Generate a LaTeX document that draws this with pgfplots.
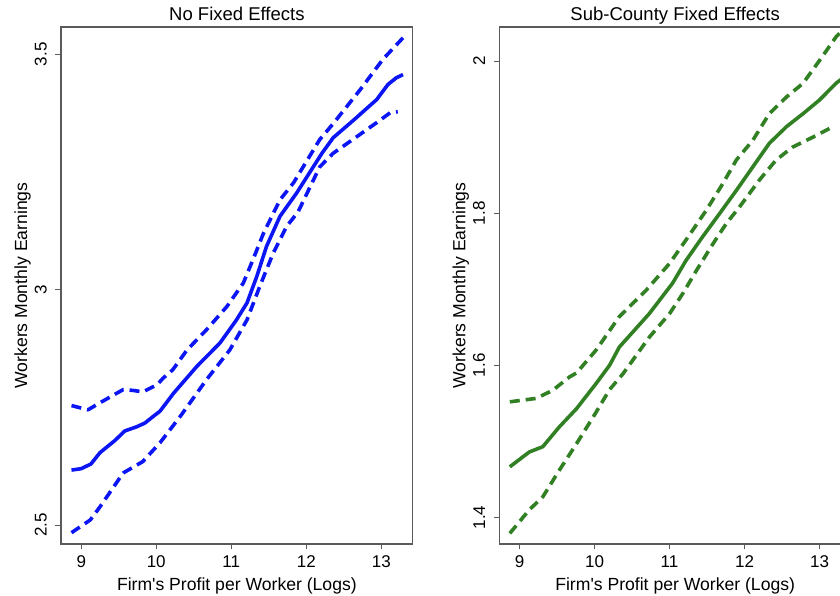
\documentclass[border=0pt]{standalone}
\usepackage{pgfplots}
\pgfplotsset{compat=1.18}
\usepackage{fontspec}
\setmainfont{Liberation Sans}
\definecolor{fgreen}{RGB}{50,128,36}
\definecolor{fblue}{RGB}{12,22,245}
\definecolor{axgray}{RGB}{90,90,90}

\pgfplotsset{
  panel/.style={
    scale only axis, width=351.75pt, height=517pt,
    anchor=south west,
    xmin=8.73, xmax=13.42,
    xtick={9,10,11,12,13},
    axis line style={axgray, line width=1.1pt},
    tick style={axgray, line width=1pt},
    tick align=outside, major tick length=5.5pt,
    xtick pos=bottom, ytick pos=left,
    /pgf/number format/assume math mode=true,
    /pgf/number format/fixed,
    ticklabel style={font=\fontsize{17}{17}\selectfont, inner sep=0pt},
    xticklabel style={anchor=north},
    yticklabel style={rotate=90, anchor=south},
    xticklabel shift=6pt,
    yticklabel shift=8.5pt,
    every axis title/.style={at={(0.5,1)}, anchor=base, yshift=6.5pt,
      font=\fontsize{18.5}{18.5}\selectfont},
    every axis x label/.style={at={(axis description cs:0.5,0)}, anchor=base,
      yshift=-47pt, font=\fontsize{17.6}{17.6}\selectfont},
    every axis y label/.style={at={([xshift=-38.5pt]axis description cs:0,0.5)}, rotate=90,
      anchor=center, font=\fontsize{17.6}{17.6}\selectfont},
    xlabel={Firm\textquotesingle s Profit per Worker (Logs)},
    ylabel={Workers Monthly Earnings},
    clip=false,
  },
  est/.style={line width=3.6pt, line join=round},
  ci/.style={line width=3.6pt, dash pattern=on 10pt off 6pt, line join=round},
}

\begin{document}
\begin{tikzpicture}
\path[use as bounding box] (0,0) rectangle (840pt,596pt);
\clip (0,0) rectangle (840pt,596pt);

\begin{axis}[panel, at={(61pt,52pt)}, title={No Fixed Effects},
  ymin=2.46, ymax=3.558, ytick={2.5,3,3.5}]
\addplot[fblue, est] coordinates {
(8.87,2.617) (9.00,2.620) (9.13,2.630) (9.25,2.654) (9.45,2.680) (9.58,2.700)
(9.74,2.709) (9.85,2.717) (9.96,2.731) (10.05,2.742) (10.23,2.780) (10.54,2.837)
(10.85,2.887) (11.07,2.936) (11.21,2.972) (11.34,3.028) (11.47,3.092) (11.65,3.156)
(11.87,3.205) (12.21,3.290) (12.36,3.323) (12.63,3.360) (12.94,3.404) (13.09,3.436)
(13.20,3.450) (13.29,3.457)};
\addplot[fblue, ci] coordinates {
(8.87,2.754) (9.09,2.745) (9.25,2.760) (9.56,2.788) (9.70,2.786) (9.82,2.783)
(10.01,2.798) (10.09,2.812) (10.22,2.830) (10.41,2.872) (10.67,2.915) (10.94,2.964)
(11.16,3.014) (11.29,3.064) (11.43,3.120) (11.65,3.191) (11.83,3.227) (12.18,3.319)
(12.35,3.351) (12.72,3.425) (13.02,3.489) (13.29,3.535)};
\addplot[fblue, ci] coordinates {
(8.87,2.484) (9.12,2.511) (9.25,2.539) (9.56,2.611) (9.82,2.635) (10.05,2.675)
(10.32,2.731) (10.67,2.809) (10.98,2.872) (11.21,2.936) (11.38,3.007) (11.56,3.078)
(11.74,3.135) (11.89,3.165) (12.18,3.261) (12.36,3.290) (12.62,3.319) (12.94,3.355)
(13.12,3.376) (13.22,3.378)};
\end{axis}

\begin{axis}[panel, at={(499.3pt,52pt)}, title={Sub-County Fixed Effects},
  ymin=1.365, ymax=2.045, ytick={1.4,1.6,1.8,2}]
\addplot[fgreen, est] coordinates {
(8.87,1.4665) (9.13,1.486) (9.31,1.493) (9.53,1.519) (9.76,1.543) (10.02,1.576)
(10.20,1.600) (10.33,1.624) (10.73,1.668) (11.04,1.708) (11.22,1.738) (11.44,1.769)
(11.67,1.800) (11.89,1.830) (12.11,1.861) (12.33,1.892) (12.56,1.914) (12.78,1.931)
(13.00,1.949) (13.22,1.971) (13.30,1.977)};
\addplot[fgreen, ci] coordinates {
(8.87,1.552) (9.22,1.5565) (9.44,1.567) (9.67,1.585) (9.76,1.590) (10.02,1.620)
(10.33,1.664) (10.69,1.699) (11.00,1.734) (11.22,1.765) (11.49,1.804) (11.71,1.839)
(11.89,1.870) (12.11,1.896) (12.33,1.931) (12.56,1.953) (12.78,1.971) (13.00,2.001)
(13.22,2.032) (13.30,2.040)};
\addplot[fgreen, ci] coordinates {
(8.87,1.379) (9.13,1.410) (9.31,1.427) (9.53,1.462) (9.76,1.497) (10.00,1.535)
(10.20,1.568) (10.38,1.589) (10.73,1.637) (11.00,1.668) (11.18,1.695) (11.36,1.725)
(11.58,1.760) (11.76,1.787) (11.93,1.808) (12.20,1.844) (12.42,1.870) (12.64,1.887)
(12.91,1.900) (13.20,1.915)};
\end{axis}
\end{tikzpicture}
\end{document}
